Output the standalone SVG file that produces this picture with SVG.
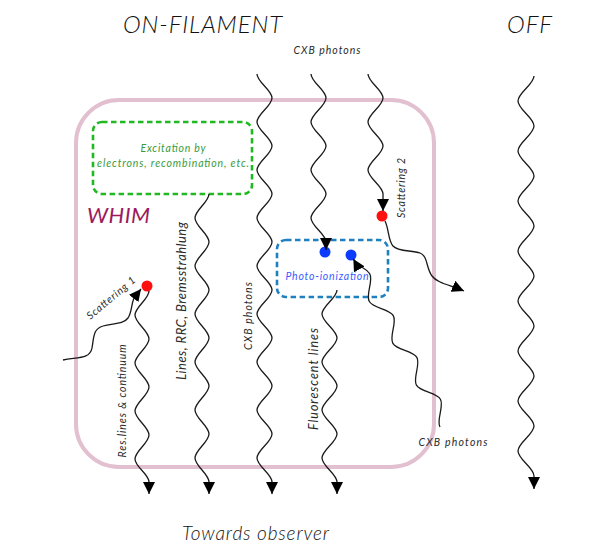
<svg xmlns="http://www.w3.org/2000/svg" width="592" height="551" viewBox="0 0 592 551">
<style>
.t{font-family:Lato,"Open Sans","Liberation Sans",sans-serif;font-style:italic;font-weight:400;fill:#2a2a2a}
.big{font-weight:300;fill:#111}
.w{fill:none;stroke:#1a1a1a;stroke-width:1.3}
.box{fill:none;stroke-width:2.6;stroke-dasharray:5.5 3.5}
</style>
<defs>
<marker id="arr" markerUnits="userSpaceOnUse" markerWidth="13" markerHeight="12" refX="12" refY="6" orient="auto">
<path d="M0,0 L12,6 L0,12 z" fill="#000"/>
</marker>
</defs>
<rect width="592" height="551" fill="#fff"/>

<g id="whim">
<rect x="76" y="100" width="358" height="367" rx="43" fill="none" stroke="#e2c0d0" stroke-width="4"/>
<text class="t" x="87" y="223" font-size="22" textLength="63" style="fill:#9c1a5e">WHIM</text>
</g>

<g id="titles">
<text class="t big" x="123" y="33" font-size="24" textLength="159">ON-FILAMENT</text>
<text class="t big" x="507" y="33" font-size="24" textLength="45">OFF</text>
<text class="t big" x="182" y="540" font-size="19" textLength="147">Towards observer</text>
</g>

<g id="excitation">
<rect x="93" y="122" width="159" height="72" rx="9" class="box" stroke="#22b822"/>
<text class="t" x="173" y="152" font-size="10.5" text-anchor="middle" textLength="65" style="fill:#3a9a3a">Excitation by</text>
<text class="t" x="173" y="167" font-size="10.5" text-anchor="middle" textLength="152" style="fill:#3a9a3a">electrons, recombination, etc.</text>
</g>

<g id="photoionization">
<rect x="277" y="240" width="111" height="57" rx="9" class="box" stroke="#1f80c0"/>
<text class="t" x="327" y="280" font-size="10.5" text-anchor="middle" textLength="83" style="fill:#3c5cff">Photo-ionization</text>
<circle cx="325" cy="252" r="5.5" fill="#0b3bff"/>
<circle cx="351" cy="255" r="5.5" fill="#0b3bff"/>
</g>

<g id="scattering1">
<circle cx="147" cy="286" r="5.5" fill="#ff1010"/>
<text class="t" font-size="10.5" text-anchor="middle" transform="translate(111,298) rotate(-40)" x="0" y="3.5" textLength="60">Scattering 1</text>
</g>

<g id="scattering2">
<circle cx="382" cy="216" r="5.5" fill="#ff1010"/>
<text class="t" font-size="10.5" text-anchor="middle" transform="translate(405,188) rotate(-90)" x="0" y="0" textLength="60">Scattering 2</text>
</g>

<g id="labels">
<text class="t" x="327" y="54" font-size="10.5" text-anchor="middle" textLength="67">CXB photons</text>
<text class="t" x="453" y="446" font-size="10.5" text-anchor="middle" textLength="69">CXB photons</text>
<text class="t" font-size="10.5" text-anchor="middle" transform="translate(252,316) rotate(-90)" textLength="68">CXB photons</text>
<text class="t" font-size="10.5" text-anchor="middle" transform="translate(126,401) rotate(-90)" textLength="113">Res.lines &amp; continuum</text>
<text class="t" font-size="13" text-anchor="middle" transform="translate(186,301) rotate(-90)" textLength="158">Lines, RRC, Bremsstrahlung</text>
<text class="t" font-size="12.5" text-anchor="middle" transform="translate(318,379) rotate(-90)" textLength="102">Fluorescent lines</text>
</g>

<g id="connectors" class="w">
<path class="w" marker-end="url(#arr)" d="M257,74 c0,8 15,16 15,24 s-15,16 -15,24 s15,16 15,24 s-15,16 -15,24 s15,16 15,24 s-15,16 -15,24 s15,16 15,24 s-15,16 -15,24 s15,16 15,24 s-15,16 -15,24 s15,16 15,24 s-15,16 -15,24 s15,16 15,24 s-15,16 -15,24 s15,16 15,24 s-15,16 -15,24 s15,16 15,24 l0,12"/>
<path class="w" marker-end="url(#arr)" d="M311,74 c0,8 15,16 15,24 s-15,16 -15,24 s15,16 15,24 s-15,16 -15,24 s15,16 15,24 s-15,16 -15,24 s15,16 15,24 l0,8"/>
<path class="w" marker-end="url(#arr)" d="M368,74 c0,8 15,16 15,24 s-15,16 -15,24 s15,16 15,24 s-15,16 -15,24 s15,16 15,24 l0,17"/>
<path class="w" marker-end="url(#arr)" d="M209,194 c0,8 -14,16 -14,24 s14,16 14,24 s-14,16 -14,24 s14,16 14,24 s-14,16 -14,24 s14,16 14,24 s-14,16 -14,24 s14,16 14,24 s-14,16 -14,24 s14,16 14,24 s-14,16 -14,24 s14,16 14,24 l0,12"/>
<path class="w" marker-end="url(#arr)" d="M149,291 c0,8 -14,16 -14,24 s14,16 14,24 s-14,16 -14,24 s14,16 14,24 s-14,16 -14,24 s14,16 14,24 s-14,16 -14,24 s14,15 14,23 l0,12"/>
<path class="w" marker-end="url(#arr)" d="M337,290 c0,8 -15,16 -15,24 s15,16 15,24 s-15,16 -15,24 s15,16 15,24 s-15,16 -15,24 s15,16 15,24 s-15,16 -15,24 s15,16 15,24 l0,12"/>
<path class="w" marker-end="url(#arr)" d="M534,76 c0,8.33 -16,16.67 -16,25 s16,16.67 16,25 s-16,16.67 -16,25 s16,16.67 16,25 s-16,16.67 -16,25 s16,16.67 16,25 s-16,16.67 -16,25 s16,16.67 16,25 s-16,16.67 -16,25 s16,16.67 16,25 s-16,16.67 -16,25 s16,16.67 16,25 s-16,16.67 -16,25 s16,16.67 16,25 s-16,16.67 -16,25 s16,16.67 16,25 l0,13"/>
<path class="w" marker-end="url(#arr)" transform="translate(440,427) rotate(150.6)" d="M0,0 c0,8 -14,16 -14,24 s14,16 14,24 s-14,16 -14,24 s14,16 14,24 s-14,16 -14,24 s14,16 14,24 s-14,16 -14,24 c0,8 7,10 7,21"/>
<path class="w" marker-end="url(#arr)" d="M63,360 C78,357 90,359 92,348 C94,337 93,329 103,326 C112,323 123,325 128,318 C132,312 131,305 134,298 L141,289"/>
<path class="w" marker-end="url(#arr)" d="M385,221 C389,229 388,240 393,246 C398,252 412,250 420,253 C428,256 426,268 432,276 C437,283 450,285 464,291"/>
</g>
</svg>
